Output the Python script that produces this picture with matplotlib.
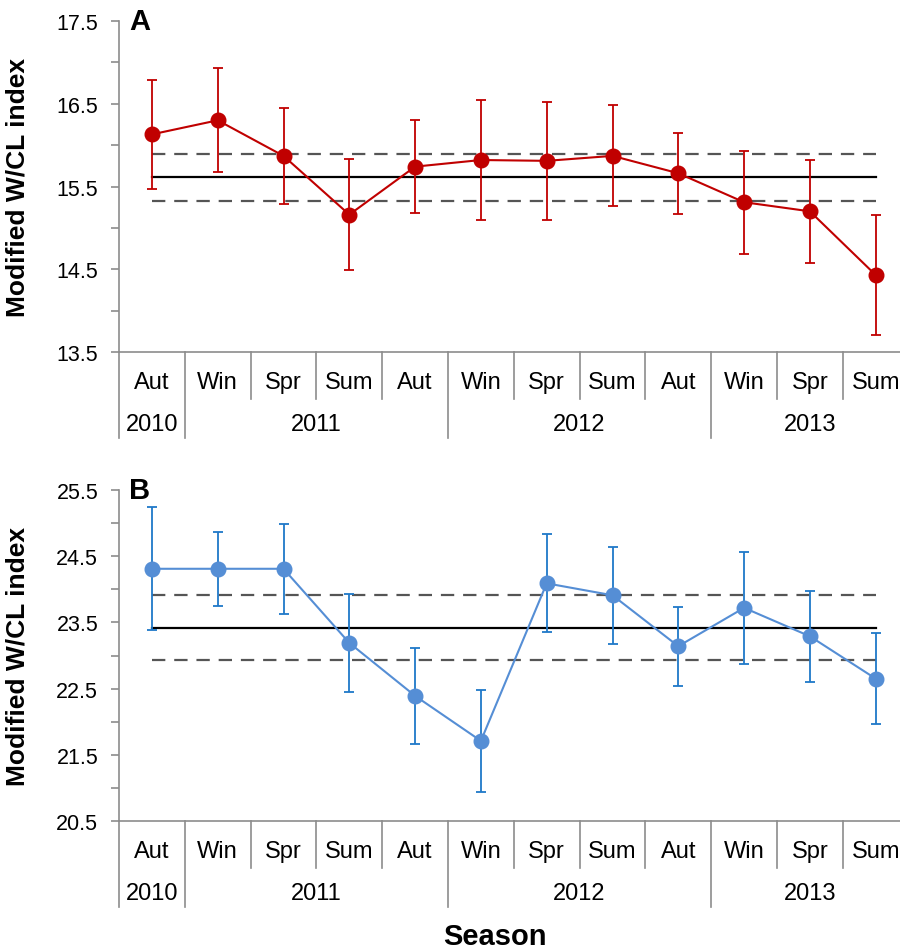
import matplotlib
matplotlib.use("Agg")
import matplotlib.pyplot as plt
import matplotlib.transforms as mtransforms
import numpy as np

plt.rcParams['font.family'] = ['Liberation Sans', 'DejaVu Sans']

seasons = ["Aut", "Win", "Spr", "Sum", "Aut", "Win", "Spr", "Sum", "Aut", "Win", "Spr", "Sum"]
years = ["2010", "2011", "2012", "2013"]
year_centers = [0, 2.5, 6.5, 10]
year_bounds = [0.5, 4.5, 8.5]

a_vals = [16.13, 16.30, 15.87, 15.16, 15.74, 15.82, 15.81, 15.87, 15.66, 15.31, 15.20, 14.43]
a_err = [0.66, 0.63, 0.58, 0.67, 0.56, 0.73, 0.71, 0.61, 0.49, 0.62, 0.62, 0.72]
a_mean, a_lo, a_hi = 15.61, 15.32, 15.89

b_vals = [24.31, 24.31, 24.31, 23.19, 22.39, 21.71, 24.09, 23.91, 23.14, 23.72, 23.29, 22.65]
b_err = [0.93, 0.56, 0.68, 0.74, 0.73, 0.77, 0.74, 0.73, 0.60, 0.85, 0.69, 0.69]
b_mean, b_lo, b_hi = 23.42, 22.93, 23.91

W, H = 900, 953
fig = plt.figure(figsize=(W / 100, H / 100), dpi=100)

GRAY = "#8c8c8c"
cell = 65.8
left_px = 119


def make_panel(top_px, bot_px, vals, errs, mean, lo, hi, ylim, line_color, err_color, letter):
    ax = fig.add_axes([left_px / W, (H - bot_px) / H, (W - left_px) / W, (bot_px - top_px) / H])
    n = len(vals)
    x = np.arange(n)
    ax.set_xlim(-0.5, -0.5 + (W - left_px) / cell)
    ax.set_ylim(*ylim)
    ax.errorbar(x, vals, yerr=errs, fmt="none", ecolor=err_color, elinewidth=1.3,
                capsize=3.6, capthick=1.3, zorder=2)
    ax.plot(x, vals, color=line_color, lw=1.5, marker="o", ms=10.5,
            mfc=line_color, mec=line_color, zorder=3)
    ax.plot([x[0], x[-1]], [mean, mean], color="black", lw=1.6, zorder=1)
    for v in (lo, hi):
        ax.plot([x[0], x[-1]], [v, v], color="#555555", lw=1.6, ls=(0, (6, 4)), zorder=1)
    for s in ("top", "right"):
        ax.spines[s].set_visible(False)
    for s in ("left", "bottom"):
        ax.spines[s].set_color(GRAY)
        ax.spines[s].set_linewidth(1.2)
    ax.set_xticks([])
    major = np.arange(ylim[0], ylim[1] + 0.01, 1.0)
    minor = np.arange(ylim[0] + 0.5, ylim[1], 1.0)
    ax.set_yticks(major)
    ax.set_yticklabels([f"{v:.1f}" for v in major])
    ax.set_yticks(minor, minor=True)
    ax.tick_params(axis="y", which="both", direction="out", length=6, width=1.2,
                   color=GRAY, labelsize=15.5, pad=9)
    ax.set_ylabel("Modified W/CL index", fontsize=19, fontweight="bold", labelpad=10)
    ax.yaxis.set_label_coords(-(left_px - 30) / (W - left_px), 0.5)

    # category separators
    h_px = bot_px - top_px
    trans = mtransforms.blended_transform_factory(ax.transData, ax.transAxes)
    season_len = 47 / h_px
    year_len = 86 / h_px
    for b in np.arange(0.5, n - 0.5, 1.0):
        L = year_len if b in year_bounds else season_len
        ax.plot([b, b], [0, -L], transform=trans, color=GRAY, lw=1.2, clip_on=False)
    ax.plot([-0.5, -0.5], [0, -year_len], transform=trans, color=GRAY, lw=1.2, clip_on=False)
    for i, s in enumerate(seasons):
        ax.text(i, -30 / h_px, s, transform=trans, ha="center", va="center", fontsize=17)
    for yc, yl in zip(year_centers, years):
        ax.text(yc, -72 / h_px, yl, transform=trans, ha="center", va="center", fontsize=17)
    ax.text(10 / (W - left_px), 1.0, letter, transform=ax.transAxes, ha="left", va="center",
            fontsize=21, fontweight="bold")
    return ax


make_panel(22, 353, a_vals, a_err, a_mean, a_lo, a_hi, (13.5, 17.5), "#C00000", "#C00000", "A")
make_panel(491, 822, b_vals, b_err, b_mean, b_lo, b_hi, (20.5, 25.5), "#558ED5", "#1F78C8", "B")

fig.text(495 / W, 1 - 937 / H, "Season", ha="center", va="center", fontsize=21, fontweight="bold")

fig.savefig("out.png", dpi=100)
